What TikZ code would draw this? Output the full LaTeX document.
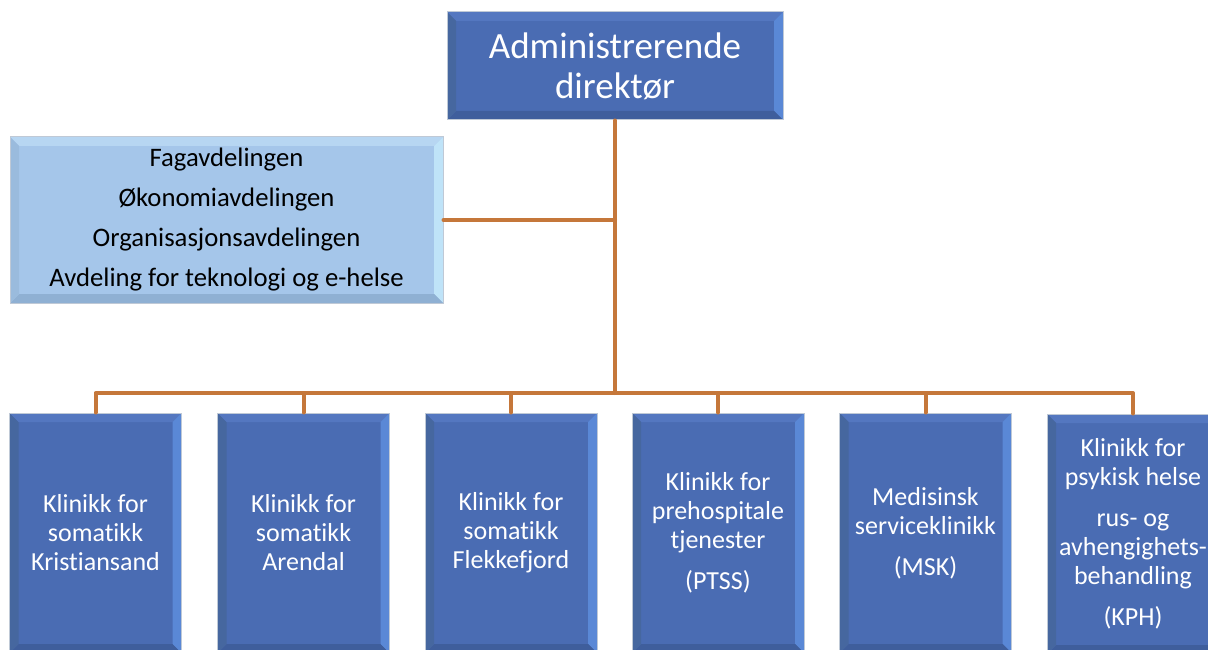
\documentclass[tikz,border=0pt]{standalone}
\usepackage{fontspec}
\setmainfont[Ligatures=NoCommon]{Carlito}
\definecolor{conn}{HTML}{C5773A}
\definecolor{dkM}{HTML}{4A6CB3}
\definecolor{dkT}{HTML}{5477C0}
\definecolor{dkR}{HTML}{5A88D6}
\definecolor{dkB}{HTML}{3F5E9C}
\definecolor{dkL}{HTML}{46679F}
\definecolor{ltM}{HTML}{A5C6EA}
\definecolor{ltT}{HTML}{B7D6F2}
\definecolor{ltR}{HTML}{BFE3F8}
\definecolor{ltB}{HTML}{8FB0D3}
\definecolor{ltL}{HTML}{9ABBDD}
\definecolor{edge}{HTML}{BFC9D6}
\tikzset{
  bevel/.style={path picture={
    \fill[#1T] (path picture bounding box.north west) -- (path picture bounding box.north east)
      -- ([shift={(-9,9)}]path picture bounding box.north east) -- ([shift={(9,9)}]path picture bounding box.north west) -- cycle;
    \fill[#1R] (path picture bounding box.north east) -- (path picture bounding box.south east)
      -- ([shift={(-9,-9)}]path picture bounding box.south east) -- ([shift={(-9,9)}]path picture bounding box.north east) -- cycle;
    \fill[#1B] (path picture bounding box.south east) -- (path picture bounding box.south west)
      -- ([shift={(9,-9)}]path picture bounding box.south west) -- ([shift={(-9,-9)}]path picture bounding box.south east) -- cycle;
    \fill[#1L] (path picture bounding box.south west) -- (path picture bounding box.north west)
      -- ([shift={(9,9)}]path picture bounding box.north west) -- ([shift={(9,-9)}]path picture bounding box.south west) -- cycle;
  }},
  darkbox/.style={draw=edge, line width=1pt, fill=dkM, bevel=dk, text=white, align=center, inner sep=0pt},
  lightbox/.style={draw=edge, line width=1pt, fill=ltM, bevel=lt, text=black, align=center, inner sep=0pt},
  unitbox/.style={darkbox, minimum width=172pt, minimum height=240pt, font=\fontsize{26pt}{29pt}\selectfont},
  link/.style={draw=conn, line width=4pt, line join=round, line cap=round},
}
\begin{document}
\begin{tikzpicture}[x=1pt,y=-1pt]
\useasboundingbox (0,0) rectangle (1208,650);
\fill[white] (0,0) rectangle (1208,650);
\node[darkbox, minimum width=336pt, minimum height=108pt, font=\fontsize{37pt}{40pt}\selectfont] (top) at (615,66) {Administrerende\\direktør};
\node[lightbox, minimum width=433pt, minimum height=166pt, font=\fontsize{26.7pt}{40pt}\selectfont] (staff) at (226.5,220) {Fagavdelingen\\Økonomiavdelingen\\Organisasjonsavdelingen\\Avdeling for teknologi og e-helse};
\node[unitbox] (b1) at (95.5,533) {Klinikk for\\somatikk\\Kristiansand};
\node[unitbox] (b2) at (303.5,533) {Klinikk for\\somatikk\\Arendal};
\node[unitbox] (b3) at (511,533) {Klinikk for\\somatikk\\Flekkefjord};
\node[unitbox] (b4) at (718,533) {Klinikk for\\prehospitale\\tjenester\\[12pt](PTSS)};
\node[unitbox] (b5) at (925.5,533) {Medisinsk\\serviceklinikk\\[12pt](MSK)};
\node[unitbox] (b6) at (1133,534) {Klinikk for\\psykisk helse\\[12pt]rus- og\\avhengighets-\\behandling\\[12pt](KPH)};
\coordinate (bus) at (614,393);
\draw[link] (top.south) -- (top.south |- bus);
\draw[link] (staff.east) -- (staff.east -| top.south);
\draw[link] (b1.north) -- (b1.north |- bus) -- (b6.north |- bus) -- (b6.north);
\foreach \b in {b2,b3,b4,b5}{\draw[link] (\b.north) -- (\b.north |- bus);}
\end{tikzpicture}
\end{document}
